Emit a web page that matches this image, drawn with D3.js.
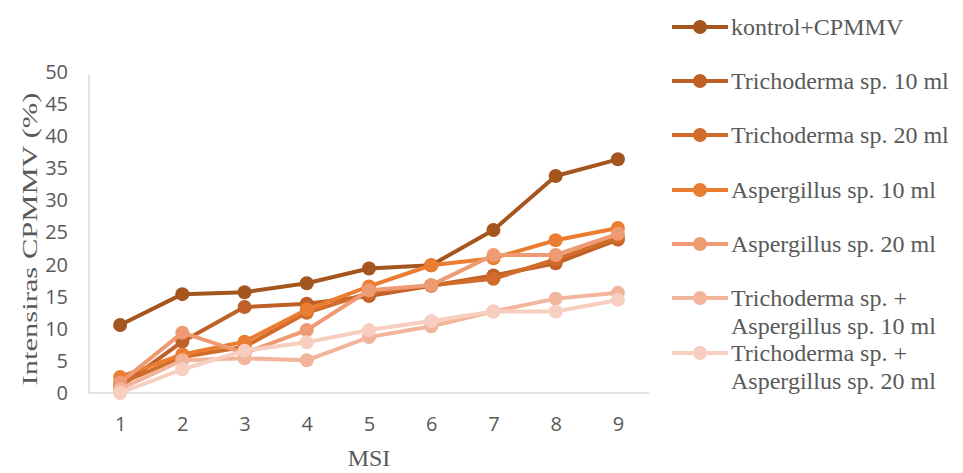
<!DOCTYPE html>
<html>
<head>
<meta charset="utf-8">
<script src="https://cdn.jsdelivr.net/npm/d3@7/dist/d3.min.js"></script>
<style>
  html, body { margin: 0; padding: 0; background: #fff; }
  svg { display: block; }
</style>
</head>
<body>
<svg id="chart" width="963" height="473"></svg>
<script>
// Days after inoculation (MSI)
const categories = ["1", "2", "3", "4", "5", "6", "7", "8", "9"];

// Disease intensity (%) per treatment
const kontrol = [10.6, 15.4, 15.7, 17.1, 19.4, 19.9, 25.4, 33.8, 36.4];
const tricho10 = [1.0, 8.0, 13.4, 13.9, 15.1, 16.7, 18.3, 20.2, 23.9];
const tricho20 = [1.5, 5.6, 7.2, 12.5, 15.6, 16.8, 17.8, 20.8, 24.2];
const asper10 = [2.5, 6.0, 8.0, 13.0, 16.6, 19.9, 21.0, 23.8, 25.7];
const asper20 = [1.6, 9.4, 6.2, 9.8, 16.0, 16.8, 21.5, 21.5, 24.8];
const mix10 = [0.6, 5.1, 5.4, 5.1, 8.7, 10.4, 12.7, 14.7, 15.6];
const mix20 = [0.0, 3.7, 6.6, 7.9, 9.8, 11.2, 12.7, 12.7, 14.5];

const seriesNames = [
  ["kontrol+CPMMV"],
  ["Trichoderma sp. 10 ml"],
  ["Trichoderma sp. 20 ml"],
  ["Aspergillus sp. 10 ml"],
  ["Aspergillus sp. 20 ml"],
  ["Trichoderma sp. +", "Aspergillus sp. 10 ml"],
  ["Trichoderma sp. +", "Aspergillus sp. 20 ml"]
];
const seriesValues = [kontrol, tricho10, tricho20, asper10, asper20, mix10, mix20];
const colors = ["#A5561F", "#BE6027", "#D26C2A", "#EA7D31", "#EE9A72", "#F2B49B", "#F7CEBF"];

const yTicks = [0, 5, 10, 15, 20, 25, 30, 35, 40, 45, 50];

const svg = d3.select("#chart");
const plot = { left: 89, right: 649, top: 72, bottom: 393 };

const x = d3.scalePoint().domain(categories).range([plot.left, plot.right]).padding(0.5);
const y = d3.scaleLinear().domain([0, 50]).range([plot.bottom, plot.top]);

const axisColor = "#D9D9D9";
const textColor = "#595959";
const serif = "'Liberation Serif', 'Times New Roman', serif";
const sans = "'Open Sans', 'Noto Sans', sans-serif";

// Axis lines
svg.append("line")
  .attr("x1", plot.left).attr("x2", plot.left)
  .attr("y1", 75).attr("y2", plot.bottom)
  .attr("stroke", axisColor).attr("stroke-width", 1.5);
svg.append("line")
  .attr("x1", plot.left).attr("x2", plot.right)
  .attr("y1", plot.bottom).attr("y2", plot.bottom)
  .attr("stroke", axisColor).attr("stroke-width", 1.5);

// Y tick labels
const yAxis = d3.axisLeft(y).tickValues(yTicks).tickSize(0).tickPadding(21);
const gy = svg.append("g").attr("transform", `translate(${plot.left},0)`).call(yAxis);
gy.select(".domain").remove();
gy.selectAll("text")
  .attr("fill", textColor)
  .style("font-family", sans)
  .style("font-size", "20px");

// X tick labels
const xAxis = d3.axisBottom(x).tickSize(0).tickPadding(24);
const gx = svg.append("g").attr("transform", `translate(0,${plot.bottom})`).call(xAxis);
gx.select(".domain").remove();
gx.selectAll("text")
  .attr("fill", textColor)
  .style("font-family", sans)
  .style("font-size", "20px");

// Axis titles
svg.append("text")
  .attr("transform", "translate(37,239) rotate(-90)")
  .attr("text-anchor", "middle")
  .attr("fill", textColor)
  .attr("textLength", 293)
  .attr("lengthAdjust", "spacingAndGlyphs")
  .style("font-family", serif)
  .style("font-size", "21px")
  .text("Intensiras CPMMV (%)");

svg.append("text")
  .attr("x", (plot.left + plot.right) / 2)
  .attr("y", 466)
  .attr("text-anchor", "middle")
  .attr("fill", textColor)
  .style("font-family", serif)
  .style("font-size", "24px")
  .text("MSI");

// Lines and markers
const line = d3.line().x((d, i) => x(categories[i])).y(d => y(d));

seriesValues.forEach((vals, si) => {
  const g = svg.append("g");
  g.append("path")
    .datum(vals)
    .attr("d", line)
    .attr("fill", "none")
    .attr("stroke", colors[si])
    .attr("stroke-width", 4)
    .attr("stroke-linejoin", "round");
  g.selectAll("circle")
    .data(vals)
    .join("circle")
    .attr("cx", (d, i) => x(categories[i]))
    .attr("cy", d => y(d))
    .attr("r", 7)
    .attr("fill", colors[si]);
});

// Legend
const legendRows = [27, 81, 135, 190, 244, 298, 353];
const legend = svg.append("g");
seriesNames.forEach((lines, si) => {
  const ly = legendRows[si];
  legend.append("line")
    .attr("x1", 672).attr("x2", 728)
    .attr("y1", ly).attr("y2", ly)
    .attr("stroke", colors[si]).attr("stroke-width", 4);
  legend.append("circle")
    .attr("cx", 700).attr("cy", ly).attr("r", 7)
    .attr("fill", colors[si]);
  const t = legend.append("text")
    .attr("fill", textColor)
    .style("font-family", serif)
    .style("font-size", "24px");
  lines.forEach((s, li) => {
    t.append("tspan")
      .attr("x", 731)
      .attr("y", ly + 8 + li * 28)
      .text(s);
  });
});
</script>
</body>
</html>
